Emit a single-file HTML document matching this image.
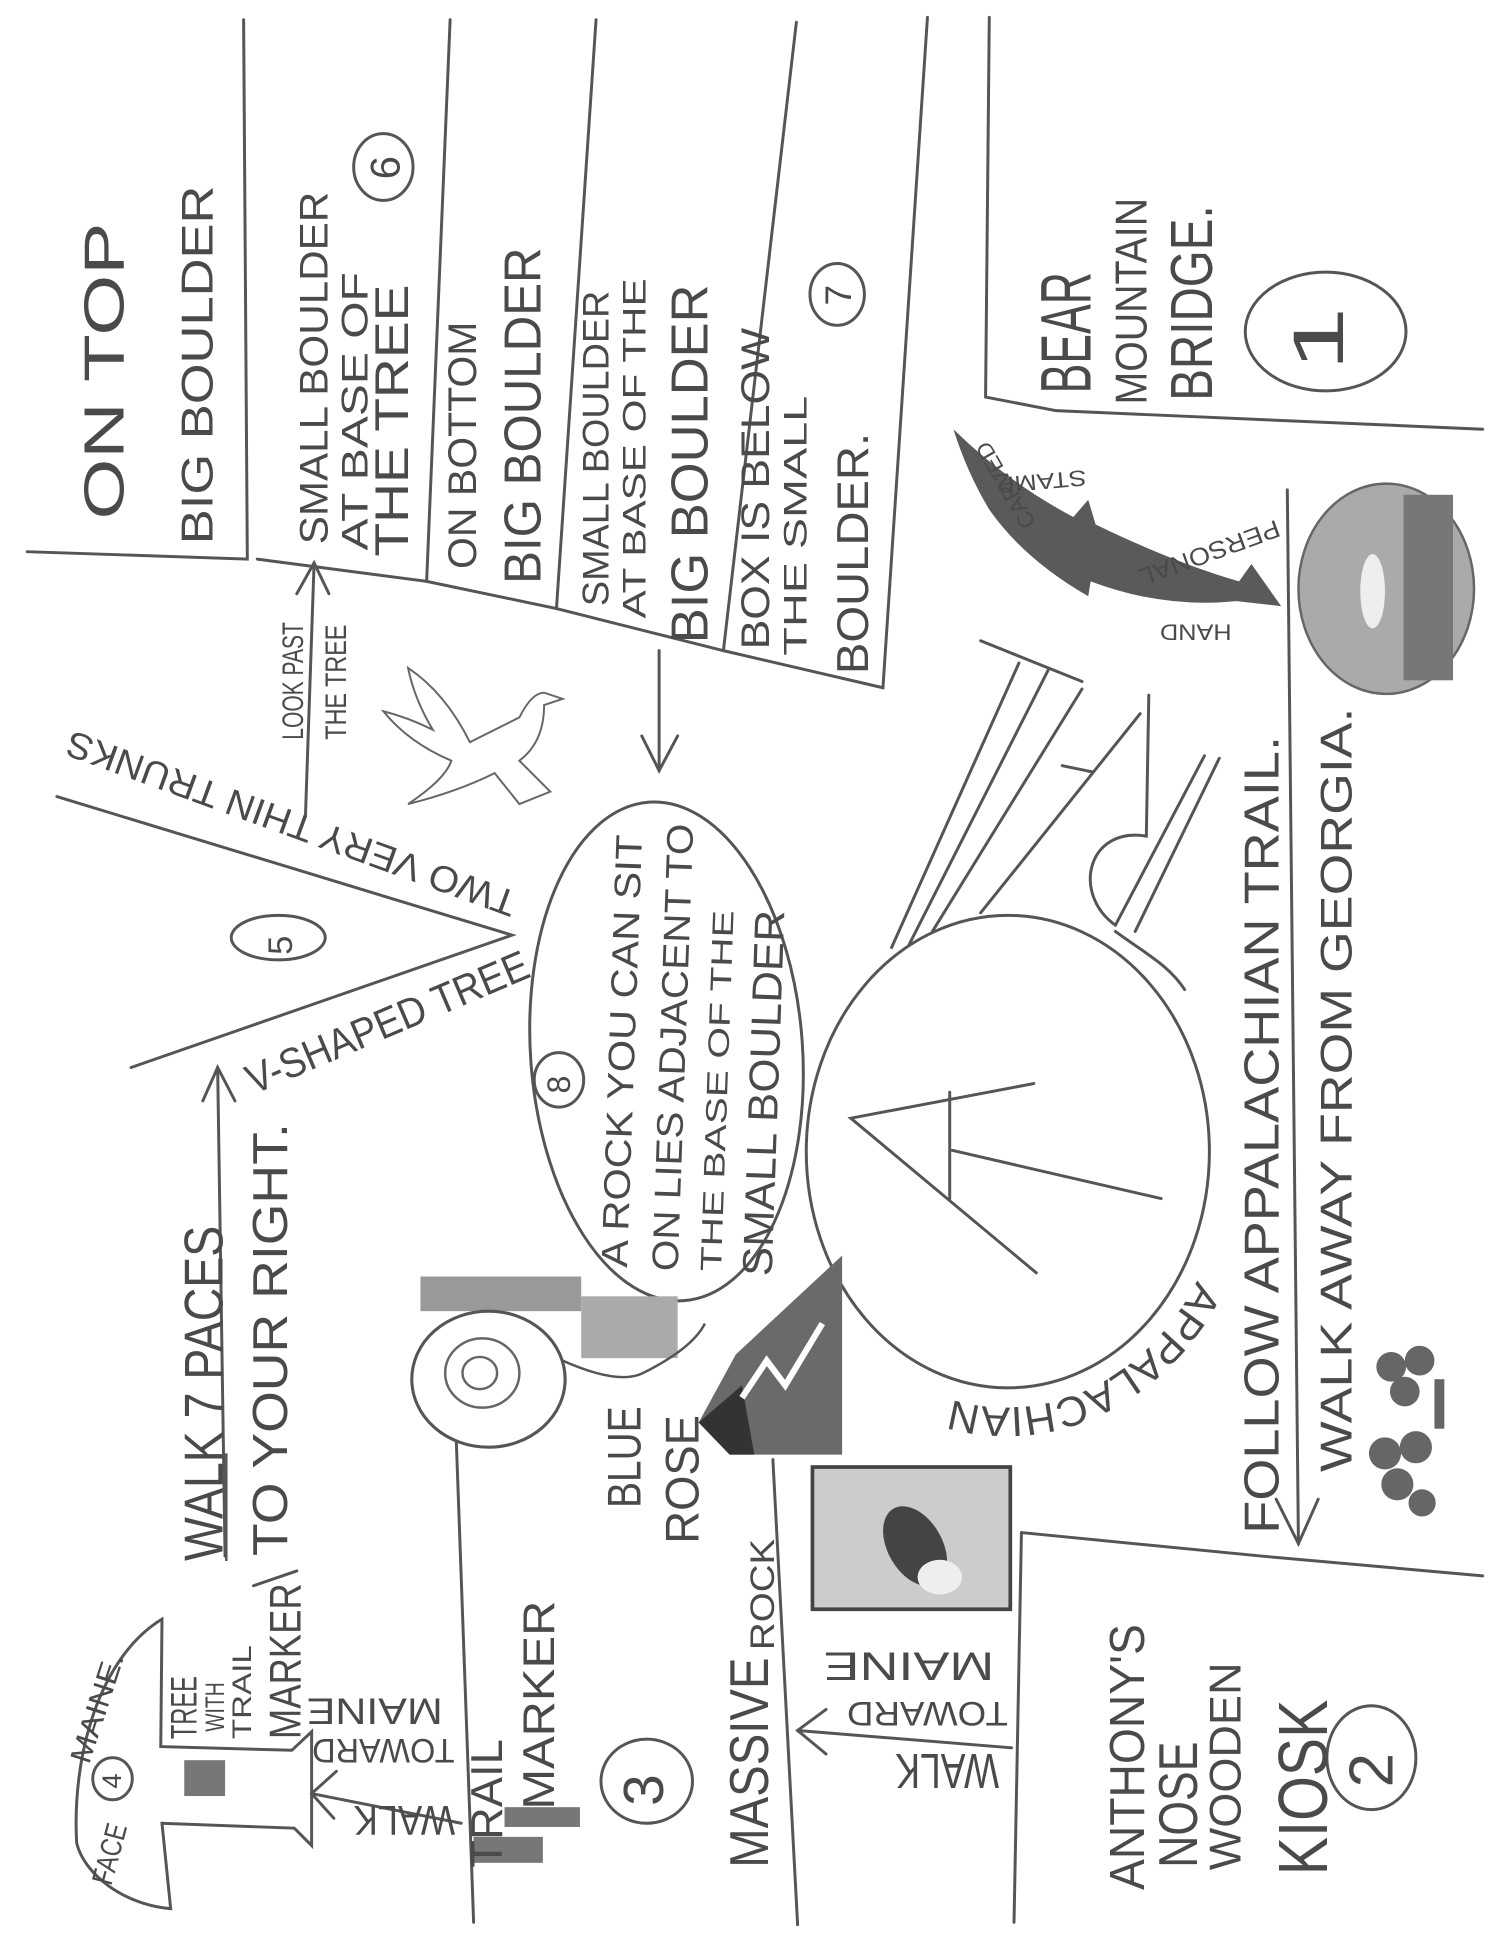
<!DOCTYPE html>
<html><head><meta charset="utf-8"><style>
html,body{margin:0;padding:0;background:#fff}
svg{display:block}
text{font-family:"Liberation Sans",sans-serif;fill:#4a4a4a}
</style></head><body>
<svg width="1500" height="1942" viewBox="0 0 1213 1570" preserveAspectRatio="none" xmlns="http://www.w3.org/2000/svg">
<rect width="1213" height="1570" fill="#fff"/>
<g stroke="#555" stroke-width="2.4" fill="none" stroke-linecap="round">
<path d="M22,446 L200,452 L197,16"/>
<path d="M208,452 L345,470 L364,16"/>
<path d="M345,470 L450,492 L482,16"/>
<path d="M450,492 L585,526 L644,18"/>
<path d="M585,526 L714,556 L750,14"/>
<path d="M800,14 L797,321 L854,332 L1199,347"/>
<path d="M1041,396 L1050,1248"/>
<path d="M1032,1212 L1050,1248 L1066,1212"/>
<path d="M826,1239 L1020,1258 L1199,1274"/>
<path d="M826,1239 L820,1554"/>
<path d="M369,1165 L383,1554"/>
<path d="M625,1180 L645,1556"/>
<path d="M182,1258 L176,863"/>
<path d="M164,890 L176,863 L190,890"/>
<path d="M46,644 L414,756 L106,863"/>
<path d="M247,660 L254,455"/>
<path d="M240,480 L254,455 L266,480"/>
<path d="M533,526 L533,623"/>
<path d="M519,595 L533,623 L548,595"/>
<ellipse cx="539" cy="850" rx="110" ry="202" transform="rotate(-4 539 850)"/>
<ellipse cx="815" cy="931" rx="163" ry="191"/>
<path d="M836,876 L688,904 L838,1029"/>
<path d="M768,883 L768,969"/>
<path d="M770,930 L939,969"/>
<path d="M721,766 L824,536"/>
<path d="M793,518 L875,551"/>
<path d="M735,764 L848,541"/>
<path d="M754,753 L875,557"/>
<path d="M793,738 L922,577"/>
<path d="M859,619 L883,624"/>
<path d="M929,562 L927,676 C880,668 866,722 902,748"/>
<path d="M902,748 L974,611"/>
<path d="M918,753 L986,613"/>
<path d="M902,753 C925,770 945,780 958,800"/>
<ellipse cx="310" cy="135" rx="24" ry="27"/>
<ellipse cx="677" cy="238" rx="22" ry="25"/>
<ellipse cx="1072" cy="268" rx="65" ry="48"/>
<ellipse cx="1109" cy="1421" rx="36" ry="42"/>
<ellipse cx="523" cy="1440" rx="37" ry="34"/>
<ellipse cx="225" cy="758" rx="38" ry="18"/>
<ellipse cx="452" cy="873" rx="20" ry="22"/>
<ellipse cx="91" cy="1438" rx="16" ry="17"/>
<path d="M645,1399 L818,1413"/>
<path d="M668,1382 L645,1399 L668,1418"/>
<path d="M252,1450 L373,1474"/>
<path d="M272,1432 L252,1450 L270,1470"/>
<path d="M131,1309 L130,1412 L236,1415 L252,1400 L252,1492 L238,1478 L131,1474 L138,1543 C100,1540 68,1515 62,1490 C58,1420 80,1340 131,1309 Z"/>
<path d="M205,1282 L240,1270"/>
</g>
<rect x="149" y="1423" width="33" height="29" fill="#777"/>
<rect x="383" y="1485" width="56" height="21" fill="#777"/>
<rect x="408" y="1461" width="61" height="16" fill="#777"/>
<path d="M771,347 Q815,390 868,418 L880,404 L886,424 Q950,455 1002,470 L1012,456 L1036,490 L1000,486 Q940,492 882,470 L880,482 Q828,452 800,412 Q782,382 771,347 Z" fill="#5a5a5a"/>
<ellipse cx="1121" cy="476" rx="71" ry="85" fill="#aaa" stroke="#666" stroke-width="2"/>
<rect x="1135" y="400" width="40" height="150" fill="#777"/>
<ellipse cx="1110" cy="478" rx="10" ry="30" fill="#eee"/>
<rect x="657" y="1186" width="160" height="115" fill="#ccc" stroke="#444" stroke-width="3"/>
<ellipse cx="740" cy="1250" rx="22" ry="35" fill="#444" transform="rotate(-30 740 1250)"/>
<ellipse cx="760" cy="1275" rx="18" ry="14" fill="#eee"/>
<g fill="#666">
<circle cx="1125" cy="1105" r="12"/><circle cx="1148" cy="1100" r="12"/><circle cx="1136" cy="1125" r="12"/>
<circle cx="1120" cy="1175" r="13"/><circle cx="1145" cy="1170" r="13"/><circle cx="1130" cy="1200" r="13"/><circle cx="1150" cy="1215" r="11"/>
<rect x="1160" y="1115" width="8" height="40"/>
</g>
<polygon points="681,1015 681,1176 590,1176 565,1150 595,1095" fill="#6a6a6a"/>
<polygon points="590,1176 565,1150 600,1120 610,1176" fill="#333"/>
<path d="M600,1130 L620,1100 L635,1120 L665,1070" stroke="#fff" stroke-width="5" fill="none"/>
<rect x="340" y="1032" width="130" height="28" fill="#999"/>
<rect x="470" y="1048" width="78" height="50" fill="#aaa"/>
<ellipse cx="395" cy="1115" rx="62" ry="55" fill="#fff" stroke="#555" stroke-width="2.5"/>
<ellipse cx="390" cy="1110" rx="30" ry="28" fill="none" stroke="#666" stroke-width="2"/>
<ellipse cx="388" cy="1110" rx="14" ry="13" fill="none" stroke="#666" stroke-width="2"/>
<path d="M455,1100 Q500,1120 520,1110 Q560,1090 570,1070" stroke="#555" stroke-width="2" fill="none"/>
<g stroke="#666" stroke-width="1.6" fill="#fff">
<path d="M330,540 Q360,560 380,600 Q400,590 420,580 Q430,560 440,560 L455,565 L440,570 Q440,600 420,615 L445,640 L420,650 L400,625 Q370,640 330,650 Q360,630 365,615 Q330,600 310,575 Q330,580 350,590 Q335,565 330,540 Z"/>
</g>
<g>
<text transform="translate(100,420) rotate(-90)" font-size="46" textLength="240" lengthAdjust="spacingAndGlyphs">ON   TOP</text>
<text transform="translate(172,440) rotate(-90)" font-size="36" textLength="290" lengthAdjust="spacingAndGlyphs">BIG  BOULDER</text>
<text transform="translate(265,440) rotate(-90)" font-size="32" textLength="285" lengthAdjust="spacingAndGlyphs">SMALL BOULDER</text>
<text transform="translate(297,445) rotate(-90)" font-size="30" textLength="225" lengthAdjust="spacingAndGlyphs">AT BASE OF</text>
<text transform="translate(330,450) rotate(-90)" font-size="38" textLength="220" lengthAdjust="spacingAndGlyphs">THE  TREE</text>
<text transform="translate(323,145) rotate(-90)" font-size="34">6</text>
<text transform="translate(385,460) rotate(-90)" font-size="32" textLength="200" lengthAdjust="spacingAndGlyphs">ON BOTTOM</text>
<text transform="translate(437,472) rotate(-90)" font-size="42" textLength="272" lengthAdjust="spacingAndGlyphs">BIG BOULDER</text>
<text transform="translate(492,490) rotate(-90)" font-size="30" textLength="255" lengthAdjust="spacingAndGlyphs">SMALL BOULDER</text>
<text transform="translate(522,500) rotate(-90)" font-size="26" textLength="275" lengthAdjust="spacingAndGlyphs">AT BASE OF  THE</text>
<text transform="translate(572,520) rotate(-90)" font-size="42" textLength="290" lengthAdjust="spacingAndGlyphs">BIG BOULDER</text>
<text transform="translate(688,247) rotate(-90)" font-size="30">7</text>
<text transform="translate(622,525) rotate(-90)" font-size="32" textLength="260" lengthAdjust="spacingAndGlyphs">BOX IS BELOW</text>
<text transform="translate(652,530) rotate(-90)" font-size="26" textLength="210" lengthAdjust="spacingAndGlyphs">THE   SMALL</text>
<text transform="translate(702,545) rotate(-90)" font-size="36" textLength="195" lengthAdjust="spacingAndGlyphs">BOULDER.</text>
<text transform="translate(882,318) rotate(-90)" font-size="58" textLength="98" lengthAdjust="spacingAndGlyphs">BEAR</text>
<text transform="translate(927,327) rotate(-90)" font-size="36" textLength="167" lengthAdjust="spacingAndGlyphs">MOUNTAIN</text>
<text transform="translate(980,324) rotate(-90)" font-size="48" textLength="158" lengthAdjust="spacingAndGlyphs">BRIDGE.</text>
<text transform="translate(1086,300) rotate(-90)" font-size="58" textLength="52" lengthAdjust="spacingAndGlyphs">1</text>
<text transform="translate(1034,1240) rotate(-90)" font-size="40" textLength="645" lengthAdjust="spacingAndGlyphs">FOLLOW APPALACHIAN TRAIL.</text>
<text transform="translate(1093,1190) rotate(-90)" font-size="36" textLength="618" lengthAdjust="spacingAndGlyphs">WALK AWAY FROM GEORGIA.</text>
<text transform="translate(925,1528) rotate(-90)" font-size="40" textLength="215" lengthAdjust="spacingAndGlyphs">ANTHONY'S</text>
<text transform="translate(968,1510) rotate(-90)" font-size="44" textLength="102" lengthAdjust="spacingAndGlyphs">NOSE</text>
<text transform="translate(1003,1512) rotate(-90)" font-size="36" textLength="168" lengthAdjust="spacingAndGlyphs">WOODEN</text>
<text transform="translate(1073,1516) rotate(-90)" font-size="56" textLength="142" lengthAdjust="spacingAndGlyphs">KIOSK</text>
<text transform="translate(1126,1445) rotate(-90)" font-size="50">2</text>
<text transform="rotate(180 766 1433)" x="766" y="1448" font-size="40" text-anchor="middle" textLength="84" lengthAdjust="spacingAndGlyphs">WALK</text>
<text transform="rotate(180 750 1386)" x="750" y="1396" font-size="28" text-anchor="middle" textLength="130" lengthAdjust="spacingAndGlyphs">TOWARD</text>
<text transform="rotate(180 735 1348)" x="735" y="1360" font-size="32" text-anchor="middle" textLength="138" lengthAdjust="spacingAndGlyphs">MAINE</text>
<text transform="rotate(180 327 1473)" x="327" y="1486" font-size="34" text-anchor="middle" textLength="82" lengthAdjust="spacingAndGlyphs">WALK</text>
<text transform="rotate(180 310 1416)" x="310" y="1426" font-size="28" text-anchor="middle" textLength="115" lengthAdjust="spacingAndGlyphs">TOWARD</text>
<text transform="rotate(180 303 1384)" x="303" y="1395" font-size="30" text-anchor="middle" textLength="110" lengthAdjust="spacingAndGlyphs">MAINE</text>
<text transform="translate(406,1510) rotate(-90)" font-size="36" textLength="104" lengthAdjust="spacingAndGlyphs">TRAIL</text>
<text transform="translate(448,1463) rotate(-90)" font-size="36" textLength="169" lengthAdjust="spacingAndGlyphs">MARKER</text>
<text transform="translate(536,1460) rotate(-90)" font-size="46">3</text>
<text transform="translate(621,1510) rotate(-90)" font-size="44" textLength="170" lengthAdjust="spacingAndGlyphs">MASSIVE</text>
<text transform="translate(626,1334) rotate(-90)" font-size="28" textLength="90" lengthAdjust="spacingAndGlyphs">ROCK</text>
<text transform="translate(518,1219) rotate(-90)" font-size="38" textLength="82" lengthAdjust="spacingAndGlyphs">BLUE</text>
<text transform="translate(565,1248) rotate(-90)" font-size="38" textLength="104" lengthAdjust="spacingAndGlyphs">ROSE</text>
<text transform="translate(159,1406) rotate(-90)" font-size="30" textLength="51" lengthAdjust="spacingAndGlyphs">TREE</text>
<text transform="translate(181,1400) rotate(-90)" font-size="22" textLength="40" lengthAdjust="spacingAndGlyphs">WITH</text>
<text transform="translate(203,1406) rotate(-90)" font-size="22" textLength="76" lengthAdjust="spacingAndGlyphs">TRAIL</text>
<text transform="translate(243,1406) rotate(-90)" font-size="36" textLength="126" lengthAdjust="spacingAndGlyphs">MARKER</text>
<text transform="translate(98,1446) rotate(-90)" font-size="22">4</text>
<text transform="translate(90,1525) rotate(-75)" font-size="24" textLength="50" lengthAdjust="spacingAndGlyphs">FACE</text>
<text transform="translate(72,1427) rotate(-72)" font-size="24" textLength="92" lengthAdjust="spacingAndGlyphs">MAINE.</text>
<text transform="translate(180,1262) rotate(-90)" font-size="44" textLength="271" lengthAdjust="spacingAndGlyphs">WALK 7 PACES</text>
<path d="M183,1262 L183,1175" stroke="#555" stroke-width="2"/>
<text transform="translate(232,1258) rotate(-90)" font-size="40" textLength="350" lengthAdjust="spacingAndGlyphs">TO YOUR RIGHT.</text>
<text transform="translate(205,885) rotate(-23)" font-size="34" textLength="245" lengthAdjust="spacingAndGlyphs">V-SHAPED TREE</text>
<text transform="translate(420,722) rotate(200)" font-size="30" textLength="385" lengthAdjust="spacingAndGlyphs">TWO VERY THIN TRUNKS</text>
<text transform="translate(236,772) rotate(-90)" font-size="28">5</text>
<text transform="translate(245,598) rotate(-90)" font-size="24" textLength="95" lengthAdjust="spacingAndGlyphs">LOOK PAST</text>
<text transform="translate(280,598) rotate(-90)" font-size="24" textLength="93" lengthAdjust="spacingAndGlyphs">THE TREE</text>
<text transform="translate(461,884) rotate(-90)" font-size="26">8</text>
<text transform="translate(507,1025) rotate(-88)" font-size="30" textLength="350" lengthAdjust="spacingAndGlyphs">A ROCK  YOU CAN SIT</text>
<text transform="translate(548,1028) rotate(-88)" font-size="30" textLength="362" lengthAdjust="spacingAndGlyphs">ON LIES ADJACENT TO</text>
<text transform="translate(583,1028) rotate(-88)" font-size="24" textLength="292" lengthAdjust="spacingAndGlyphs">THE BASE OF THE</text>
<text transform="translate(624,1032) rotate(-88)" font-size="34" textLength="296" lengthAdjust="spacingAndGlyphs">SMALL BOULDER</text>
<path id="arc" d="M968,1035 A178 205 0 0 1 772,1132" fill="none"/>
<text font-size="34"><textPath href="#arc" textLength="240" lengthAdjust="spacingAndGlyphs">APPALACHIAN</textPath></text>
<text transform="translate(838,423) rotate(-120)" font-size="18" textLength="78" lengthAdjust="spacingAndGlyphs">CARVED</text>
<text transform="translate(878,380) rotate(175)" font-size="18" textLength="76" lengthAdjust="spacingAndGlyphs">STAMP.</text>
<text transform="translate(1032,420) rotate(160)" font-size="20" textLength="120" lengthAdjust="spacingAndGlyphs">PERSONAL</text>
<text transform="translate(996,505) rotate(180)" font-size="18" textLength="58" lengthAdjust="spacingAndGlyphs">HAND</text>
</g>
</svg>
</body></html>
